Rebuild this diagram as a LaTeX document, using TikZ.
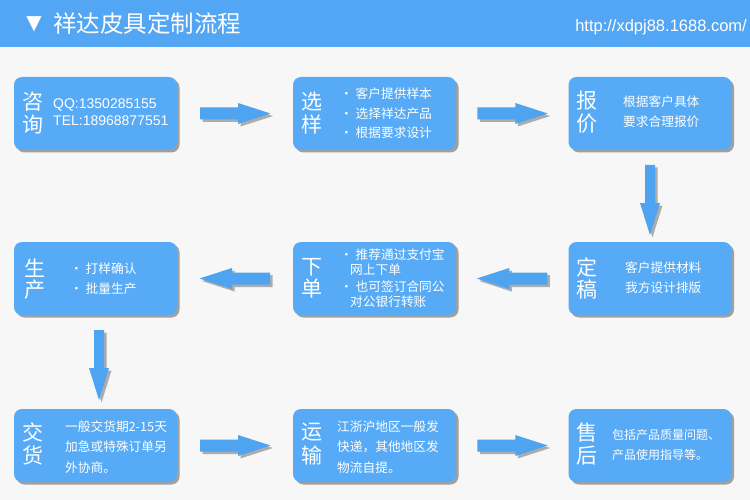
\documentclass[tikz,border=0pt]{standalone}
\usepackage{fontspec}
\newfontfamily\cjk{Noto Sans CJK SC}
\newfontfamily\arialf{Liberation Sans}
\newfontfamily\dejavu{DejaVu Sans}
\usetikzlibrary{shadows,calc}
\definecolor{bgc}{HTML}{F7F7F7}
\definecolor{hdrc}{HTML}{52A6F3}
\definecolor{cardc}{HTML}{56AAF6}
\definecolor{arrc}{HTML}{4FA4F1}
\newcommand\myharrow[2]{%
  \path[arrowsty, shift={(#1)}, xscale=#2] (-35,-6) -- (3,-6) -- (3,-10.5) -- (35.5,0) -- (3,10.5) -- (3,6) -- (-35,6) -- cycle;}
\newcommand\myvarrow[1]{%
  \path[arrowsty, shift={(#1)}] (-5,-35) -- (-5,3) -- (-10,3) -- (0,35) -- (10,3) -- (5,3) -- (5,-35) -- cycle;}
\begin{document}
\begin{tikzpicture}[x=1pt,y=-1pt,
  card/.style={fill=cardc, rounded corners=8pt, minimum width=163pt, minimum height=73pt, inner sep=0pt,
    drop shadow={shadow xshift=2.5pt, shadow yshift=-2.5pt, fill=black, opacity=0.35}},
  arrowsty/.style={fill=arrc, drop shadow={shadow xshift=2.5pt, shadow yshift=-2.5pt, fill=black, opacity=0.3}},
  bigc/.style={text=white, inner sep=0pt, font=\cjk\fontsize{21}{21}\selectfont},
  txt/.style={text=white, inner sep=0pt, anchor=west, font=\cjk\fontsize{12.7}{14}\selectfont},
]
\useasboundingbox (0,0) rectangle (750,500);
\fill[bgc] (0,0) rectangle (750,500);
\fill[hdrc] (0,0) rectangle (750,47);
\node[text=white, inner sep=0pt, font=\dejavu\fontsize{20}{20}\selectfont] (tri) at (34,24) {▼};
\node[text=white, inner sep=0pt, anchor=west, font=\cjk\fontsize{23.5}{24}\selectfont] (title) at (53,24) {祥达皮具定制流程};
\node[text=white, inner sep=0pt, anchor=east, font=\arialf\fontsize{16.5}{17}\selectfont] (url) at (747,27) {http://xdpj88.1688.com/};

% cards
\node[card] (c1) at (95.5,113.5) {};
\node[card] (c2) at (374.5,113.5) {};
\node[card] (c3) at (650,113.5) {};
\node[card] (c4) at (95.5,278.5) {};
\node[card] (c5) at (374.5,278.5) {};
\node[card] (c6) at (650,278.5) {};
\node[card] (c7) at (95.5,445.5) {};
\node[card] (c8) at (374.5,445.5) {};
\node[card] (c9) at (650,445.5) {};

% arrows
\coordinate (a12) at ($(c1.east)!0.5!(c2.west)$);
\coordinate (a23) at ($(c2.east)!0.5!(c3.west)$);
\coordinate (a36) at ($(c3.south)!0.5!(c6.north)+(0,4)$);
\coordinate (a65) at ($(c6.west)!0.5!(c5.east)$);
\coordinate (a54) at ($(c5.west)!0.5!(c4.east)$);
\coordinate (a47) at ($(c4.south)!0.5!(c7.north)+(3.5,3)$);
\coordinate (a78) at ($(c7.east)!0.5!(c8.west)$);
\coordinate (a89) at ($(c8.east)!0.5!(c9.west)$);
\myharrow{a12}{1}
\myharrow{a23}{1}
\myvarrow{a36}
\myharrow{a65}{-1}
\myharrow{a54}{-1}
\myvarrow{a47}
\myharrow{a78}{1}
\myharrow{a89}{1}

% card 1
\node[bigc] (k1a) at (33,102) {咨};
\node[bigc] (k1b) at (33,124) {询};
\node[text=white, inner sep=0pt, anchor=west, font=\arialf\fontsize{14}{15}\selectfont] (t1a) at (53,105) {QQ:1350285155};
\node[text=white, inner sep=0pt, anchor=west, font=\arialf\fontsize{14}{15}\selectfont] (t1b) at (53,121) {TEL:18968877551};
% card 2
\node[bigc] (k2a) at (312,102) {选};
\node[bigc] (k2b) at (312,124) {样};
\node[txt] (t2a) at (340,94) {· 客户提供样本};
\node[txt] (t2b) at (340,114) {· 选择祥达产品};
\node[txt] (t2c) at (340,133) {· 根据要求设计};
% card 3
\node[bigc] (k3a) at (587,101) {报};
\node[bigc] (k3b) at (587,124) {价};
\node[txt] (t3a) at (623,102) {根据客户具体};
\node[txt] (t3b) at (623,122) {要求合理报价};
% card 4
\node[bigc] (k4a) at (35,268) {生};
\node[bigc] (k4b) at (35,290) {产};
\node[txt] (t4a) at (70,269) {· 打样确认};
\node[txt] (t4b) at (70,289) {· 批量生产};
% card 5
\node[bigc] (k5a) at (312,267) {下};
\node[bigc] (k5b) at (312,289) {单};
\node[txt] (t5a) at (340,255) {· 推荐通过支付宝};
\node[txt] (t5b) at (350,270) {网上下单};
\node[txt] (t5c) at (340,287) {· 也可签订合同公};
\node[txt] (t5d) at (350,302) {对公银行转账};
% card 6
\node[bigc] (k6a) at (587,267) {定};
\node[bigc] (k6b) at (587,289) {稿};
\node[txt] (t6a) at (625,268) {客户提供材料};
\node[txt] (t6b) at (625,288) {我方设计排版};
% card 7
\node[bigc] (k7a) at (33,432) {交};
\node[bigc] (k7b) at (33,455) {货};
\node[txt] (t7a) at (65,427) {一般交货期2-15天};
\node[txt] (t7b) at (65,447) {加急或特殊订单另};
\node[txt] (t7c) at (65,468) {外协商。};
% card 8
\node[bigc] (k8a) at (312,432) {运};
\node[bigc] (k8b) at (312,455) {输};
\node[txt] (t8a) at (337,427) {江浙沪地区一般发};
\node[txt] (t8b) at (337,447) {快递，其他地区发};
\node[txt] (t8c) at (337,468) {物流自提。};
% card 9
\node[bigc] (k9a) at (587,433) {售};
\node[bigc] (k9b) at (587,456) {后};
\node[txt, font=\cjk\fontsize{12}{14}\selectfont] (t9a) at (612,435) {包括产品质量问题、};
\node[txt, font=\cjk\fontsize{12}{14}\selectfont] (t9b) at (612,455) {产品使用指导等。};
\end{tikzpicture}
\end{document}
